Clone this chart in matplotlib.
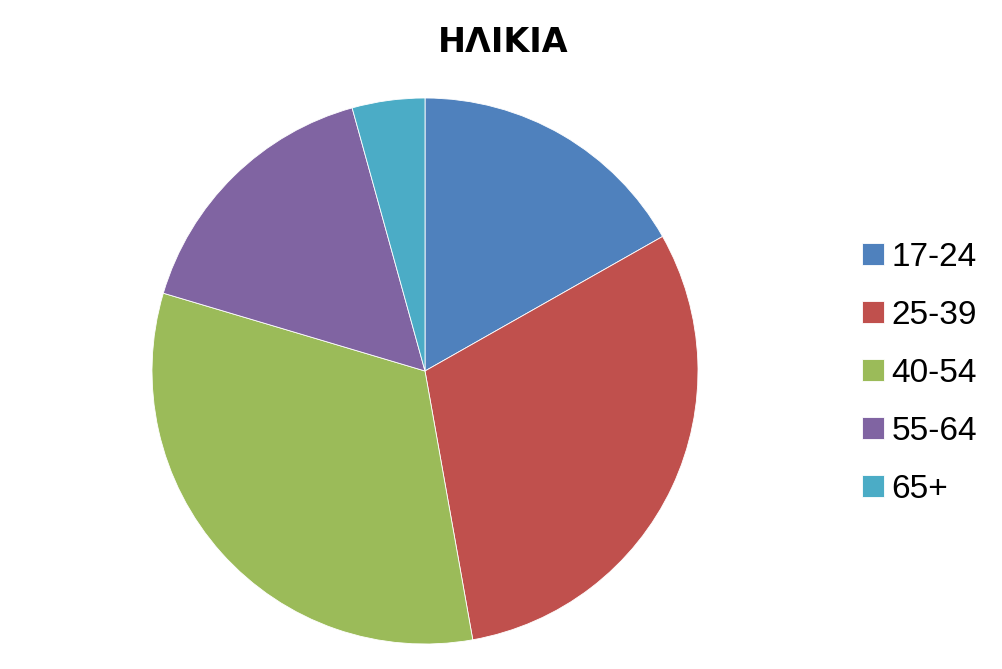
import matplotlib
matplotlib.use("Agg")
import matplotlib.pyplot as plt

categories = ["17-24", "25-39", "40-54", "55-64", "65+"]
values = [16.8, 30.4, 32.4, 16.1, 4.3]
colors = ["#4F81BD", "#C0504D", "#9BBB59", "#8064A2", "#4BACC6"]
title = "ΗΛΙΚΙΑ"

W, H = 1002, 669
fig = plt.figure(figsize=(W / 100, H / 100), dpi=100)
cx, cy, r = 425, 371, 273
ax = fig.add_axes([(cx - r) / W, (H - cy - r) / H, 2 * r / W, 2 * r / H])
wedges, _ = ax.pie(values, colors=colors, startangle=90, counterclock=False,
                   radius=1, wedgeprops=dict(linewidth=0.6, edgecolor="white"))
ax.set_xlim(-1, 1)
ax.set_ylim(-1, 1)
ax.set_aspect("equal")
ax.axis("off")

fig.text(503 / W, 1 - 43 / H, title, ha="center", va="center",
         fontsize=24, fontweight="bold", family=["DejaVu Sans"])

fig.legend(wedges, categories, loc="center left",
           bbox_to_anchor=(862 / W, 1 - 373 / H), bbox_transform=fig.transFigure,
           frameon=False, prop={"family": "Liberation Sans", "size": 24},
           handlelength=0.66, handleheight=0.66, handletextpad=0.22,
           labelspacing=0.81, borderpad=0, borderaxespad=0)

fig.savefig("out.png", dpi=100)
